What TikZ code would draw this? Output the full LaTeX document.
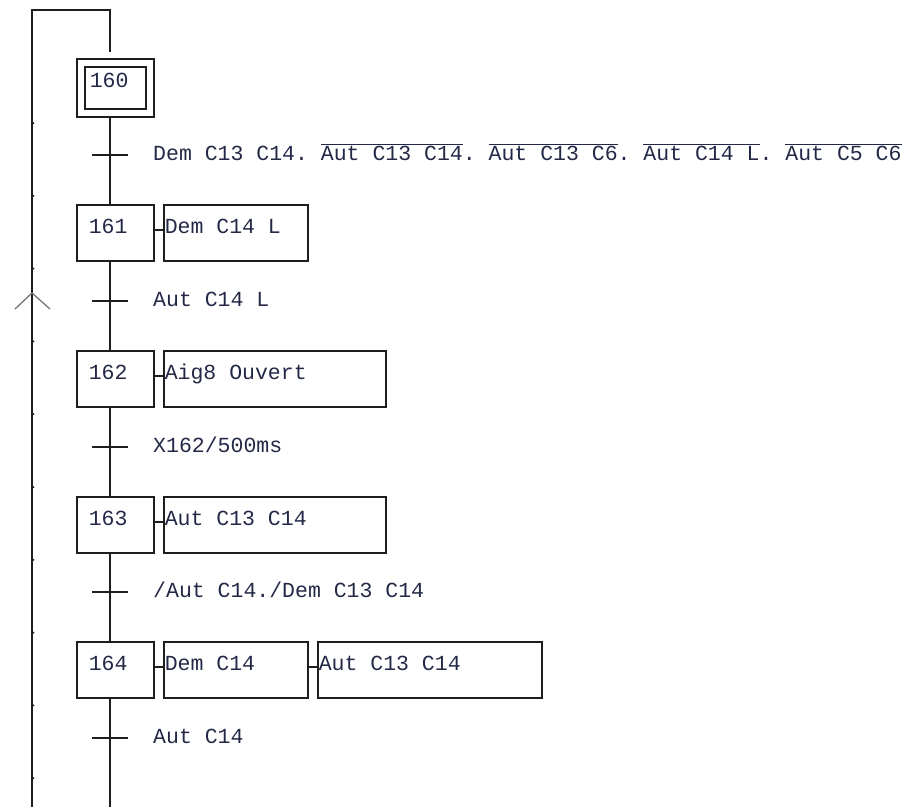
\documentclass[tikz,border=0pt]{standalone}
\usepackage{fontspec}
\newfontfamily\grafcetfont{Liberation Mono}
\usepackage{tikz}
\usepackage{xcolor}
\definecolor{LineBlack}{RGB}{30, 30, 30}
\definecolor{InkNavy}{RGB}{35, 40, 70}
\definecolor{ArrowGray}{RGB}{110, 110, 110}
\usetikzlibrary{positioning}
\frenchspacing

\begin{document}
\begin{tikzpicture}[
    x=1pt, y=-1pt,
    every node/.style={font=\grafcetfont\fontsize{21.5}{26}\selectfont, text=InkNavy},
    link/.style={line width=1.6pt, LineBlack},
    stepbox/.style={rectangle, draw=LineBlack, line width=1.5pt, inner ysep=0pt, inner xsep=12pt,
        text width=53pt, text height=29pt, text depth=27pt, align=flush left, anchor=north west},
    initstep/.style={stepbox, double, double distance=6.5pt, inner xsep=9pt, text width=51pt,
        text height=25pt, text depth=25pt},
    actbox/.style={stepbox, inner xsep=1pt, text width=#1},
    cond/.style={anchor=base west, inner sep=0pt}
]
\useasboundingbox (0,0) rectangle (906,807);

% Steps
\node[initstep] (s160) at (80,62) {160};
\node[stepbox] (s161) at (76,204) {161};
\node[stepbox] (s162) at (76,350) {162};
\node[stepbox] (s163) at (76,496) {163};
\node[stepbox] (s164) at (76,641) {164};

% Actions
\node[actbox=142pt, right=8.5pt of s161] (a161) {Dem C14 L};
\node[actbox=220pt, right=8.5pt of s162] (a162) {Aig8 Ouvert};
\node[actbox=220pt, right=8.5pt of s163] (a163) {Aut C13 C14};
\node[actbox=142pt, right=8.5pt of s164] (a164) {Dem C14};
\node[actbox=222pt, right=8.5pt of a164] (a164b) {Aut C13 C14};

\draw[link] ([yshift=3pt]s161.east) -- ([yshift=3pt]a161.west);
\draw[link] ([yshift=3pt]s162.east) -- ([yshift=3pt]a162.west);
\draw[link] ([yshift=3pt]s163.east) -- ([yshift=3pt]a163.west);
\draw[link] ([yshift=3pt]s164.east) -- ([yshift=3pt]a164.west);
\draw[link] ([yshift=3pt]a164.east) -- ([yshift=3pt]a164b.west);

% Main line
\coordinate (axis) at (110,0);
\coordinate (tail) at (110,807);
\draw[link, shorten <=4pt] (axis |- s160.south) -- (axis |- s161.north);
\draw[link] (axis |- s161.south) -- (axis |- s162.north);
\draw[link] (axis |- s162.south) -- (axis |- s163.north);
\draw[link] (axis |- s163.south) -- (axis |- s164.north);
\draw[link] (axis |- s164.south) -- (tail);

% Transitions
\coordinate (t1) at (110,155);
\coordinate (t2) at (110,301);
\coordinate (t3) at (110,447);
\coordinate (t4) at (110,592);
\coordinate (t5) at (110,738);
\foreach \t in {t1,t2,t3,t4,t5} {
    \draw[link] ([xshift=-18pt]\t) -- ([xshift=18pt]\t);
}

\node[cond] (c1) at ([xshift=43pt,yshift=-5pt]t1) {Dem C13 C14. $\overline{\mbox{Aut C13 C14}}$. $\overline{\mbox{Aut C13 C6}}$. $\overline{\mbox{Aut C14 L}}$. $\overline{\mbox{Aut C5 C6}}$};
\node[cond] (c2) at ([xshift=43pt,yshift=-5pt]t2) {Aut C14 L};
\node[cond] (c3) at ([xshift=43pt,yshift=-5pt]t3) {X162/500ms};
\node[cond] (c4) at ([xshift=43pt,yshift=-5pt]t4) {/Aut C14./Dem C13 C14};
\node[cond] (c5) at ([xshift=43pt,yshift=-5pt]t5) {Aut C14};

% Return loop
\coordinate (loopbot) at (32,807);
\coordinate (looptop) at (32,10);
\draw[link] (loopbot) -- (looptop) -| ([yshift=10pt]axis |- s160.north);
\draw[ArrowGray, line width=1.2pt] (15,309) -- (32,293) -- (50,309);
\foreach \k in {0,...,9} {
    \fill[LineBlack] (33.5,{123+72.8*\k}) circle (1pt);
}

\end{tikzpicture}
\end{document}
